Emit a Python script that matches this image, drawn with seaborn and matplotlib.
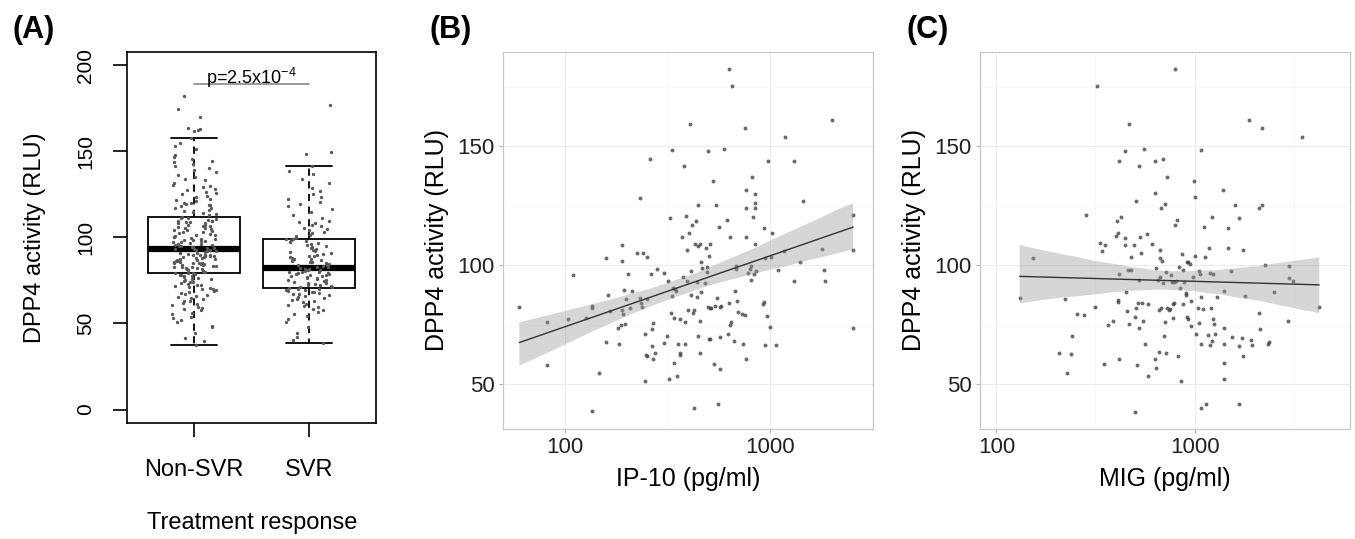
import numpy as np
import pandas as pd
import matplotlib
matplotlib.use("Agg")
import matplotlib.pyplot as plt
from matplotlib.collections import PolyCollection
from matplotlib.ticker import NullFormatter
import seaborn as sns

# ---- data ----
groups = ["Non-SVR", "SVR"]

dpp4_nonsvr = [
    37.6, 39.8, 41.5, 44.2, 47.9, 48.6,
    50.8, 52.1, 53.4, 53.9, 55.6, 56.2, 57.8, 58.3, 59.1, 59.7,
    60.5, 61.3, 61.9, 62.8, 63.2, 64.4, 64.9, 65.3, 66.0, 66.7, 67.1, 67.9, 68.4, 69.0, 69.6, 69.9,
    70.3, 70.9, 71.2, 71.8, 72.1, 72.6, 73.0, 73.5, 73.9, 74.2, 74.8, 75.0, 75.7, 76.1, 76.3, 76.9,
    77.4, 77.5, 78.1, 78.4, 78.9, 79.1, 79.4, 79.6, 79.9,
    80.2, 80.5, 80.6, 81.1, 81.4, 81.5, 82.0, 82.3, 82.7, 82.9, 83.0, 83.5, 83.8, 84.1, 84.4, 84.5,
    84.9, 85.3, 85.4, 85.9, 86.0, 86.3, 86.6, 86.8, 87.2, 87.5, 87.7, 88.1, 88.3, 88.6, 88.9, 89.0,
    89.2, 89.4, 89.6, 89.8, 89.9, 85.1, 83.2,
    90.1, 90.3, 90.8, 91.0, 91.2, 91.7, 91.9, 92.3, 92.6, 92.8, 93.1, 93.5, 93.6, 94.1, 94.4, 94.7,
    94.9, 95.3, 95.5, 95.9, 96.2, 96.5, 96.6, 97.1, 97.4, 97.7, 98.0, 98.3, 98.6, 99.0, 99.3, 99.7,
    100.1, 100.5, 100.9, 101.3, 101.5, 102.1, 102.6, 102.9, 103.3, 103.7, 104.1, 104.3, 104.9, 105.4,
    105.6, 106.1, 106.5, 106.9, 107.3, 107.5, 108.2, 108.4, 108.9, 109.1, 109.4, 109.6, 109.8, 110.2,
    110.7, 111.1, 111.6, 112.0, 112.9, 113.4, 114.3, 114.8, 115.6, 116.1, 116.9, 117.3, 118.1, 118.6,
    119.1, 119.5, 119.8, 120.3,
    121.0, 121.6, 122.4, 123.5, 124.1, 125.3, 126.0, 126.7, 127.6, 128.2, 129.1, 129.8,
    130.6, 131.7, 133.2, 134.0, 135.4, 136.6, 138.0, 139.1,
    140.4, 141.6, 142.7, 143.8, 144.5, 145.6, 146.9, 148.2,
    151.4, 153.2, 155.1, 157.6,
    162.0, 162.3, 162.8, 163.4, 169.8, 174.5, 182.4,
]

dpp4_svr = [
    38.8, 40.6, 42.1, 44.7, 47.9,
    50.7, 52.4, 54.1, 55.3, 56.9, 57.6, 58.4, 59.5,
    60.2, 60.9, 61.5, 62.3, 62.9, 63.6, 64.0, 64.7, 65.2, 65.8, 66.4, 66.9, 67.3, 67.8, 68.2, 68.6,
    69.0, 69.3, 69.6, 69.9,
    70.3, 70.6, 71.0, 71.4, 71.9, 72.2, 72.6, 73.1, 73.5, 73.8, 74.2, 74.7, 75.0, 75.4, 75.9, 76.3,
    76.6, 77.0, 77.5, 77.8, 78.1, 78.4, 78.8, 79.0, 79.3, 79.5, 79.7, 79.9,
    80.2, 80.5, 80.9, 81.2, 81.6, 81.9, 82.3, 82.6, 82.9, 83.4, 83.8, 84.2, 84.6, 85.0, 85.5, 85.9,
    86.4, 86.8, 87.3, 87.7, 88.2, 88.6, 89.1, 89.4, 89.8,
    90.3, 90.9, 91.6, 92.2, 92.8, 93.4, 94.0, 94.5, 95.1, 95.6, 96.2, 96.8, 97.3, 97.8, 98.4, 98.9,
    99.3, 99.8,
    100.6, 101.5, 102.4, 103.2, 104.1, 104.9, 105.7, 106.5, 107.4, 108.2, 109.0, 109.8,
    111.2, 113.0, 114.9, 116.5, 118.3, 119.6,
    120.8, 122.1, 123.6, 125.4, 126.9, 128.7,
    131.5, 134.2, 136.8, 138.9, 141.5,
    148.3, 149.7, 177.0,
]

p_label = r"p=2.5x10$^{-4}$"

ip10 = [
    60, 82, 82, 103, 109, 126, 135, 135, 135, 147,
    158, 159, 163, 165, 183, 182, 188, 190, 190, 190,
    192, 196, 195, 199, 203, 208, 212, 224, 231, 233,
    235, 236, 240, 245, 248, 250, 250, 252, 261, 263,
    266, 266, 268, 268, 275, 281, 245, 302, 305, 314,
    317, 321, 325, 328, 332, 333, 337, 340, 339, 342,
    349, 351, 357, 362, 364, 364, 373, 375, 380, 384,
    385, 388, 393, 393, 397, 400, 408, 410, 413, 415,
    420, 423, 425, 431, 436, 440, 440, 443, 445, 447,
    453, 456, 457, 458, 460, 463, 481, 487, 490, 494,
    497, 500, 502, 504, 507, 507, 510, 515, 525, 531,
    537, 546, 548, 558, 560, 566, 568, 572, 576, 597,
    612, 620, 626, 630, 636, 636, 643, 654, 665, 672,
    679, 684, 691, 698, 732, 737, 751, 756, 765, 765,
    765, 765, 780, 793, 802, 809, 817, 823, 829, 838,
    843, 843, 846, 856, 922, 931, 931, 938, 945, 963,
    975, 992, 1004, 1023, 1061, 1089, 1165, 1173, 1300, 1311,
    1398, 1440, 1785, 1818, 1845, 1996, 2530, 2530, 2530,
]
dpp4_ip10 = [
    82.4, 76.2, 58.2, 77.4, 95.7, 77.8, 82.7, 82.0, 38.8, 54.6,
    67.7, 102.9, 87.5, 80.7, 66.9, 73.8, 74.8, 108.6, 101.6, 81.3,
    79.5, 75.2, 89.6, 85.6, 96.1, 82.1, 89.2, 105.0, 86.3, 128.2,
    84.3, 82.4, 105.0, 70.9, 62.2, 103.6, 62.0, 85.7, 144.8, 96.1,
    66.1, 73.1, 75.6, 60.8, 63.0, 98.3, 51.4, 96.8, 67.3, 70.2,
    93.2, 52.2, 119.9, 79.8, 148.4, 87.2, 90.6, 77.7, 59.1, 89.9,
    89.2, 53.3, 66.9, 63.3, 62.2, 77.4, 112.0, 95.0, 141.5, 76.2,
    66.9, 120.6, 106.5, 93.5, 81.0, 113.4, 159.5, 97.6, 87.5, 117.0,
    80.0, 39.9, 81.3, 109.1, 118.7, 92.9, 86.7, 70.2, 108.0, 125.2,
    109.1, 76.7, 63.3, 101.2, 88.9, 99.0, 92.5, 107.3, 97.1, 99.3,
    148.0, 82.4, 104.0, 69.2, 108.8, 69.0, 82.0, 82.0, 135.4, 58.4,
    82.7, 125.4, 86.3, 41.6, 115.9, 82.4, 56.5, 69.7, 82.9, 148.7,
    119.2, 71.2, 84.3, 182.3, 111.7, 74.8, 76.2, 175.1, 68.3, 89.2,
    99.7, 98.3, 85.0, 80.5, 79.5, 66.9, 157.8, 78.9, 131.7, 124.2,
    112.0, 60.8, 96.8, 98.3, 99.7, 93.9, 137.2, 120.2, 96.1, 126.1,
    124.2, 109.1, 130.0, 97.6, 83.9, 84.6, 115.6, 66.6, 102.9, 78.5,
    143.7, 74.1, 103.3, 113.4, 66.6, 98.0, 105.8, 154.0, 143.7, 93.5,
    101.2, 127.1, 106.9, 97.8, 93.5, 161.2, 121.0, 106.6, 73.5,
]

mig = [
    131, 153, 207, 222, 228, 237, 241, 256, 276, 282,
    313, 320, 332, 341, 348, 355, 366, 387, 399, 406,
    410, 411, 411, 414, 414, 414, 426, 445, 445, 448,
    453, 456, 460, 465, 465, 475, 475, 493, 498, 502,
    508, 508, 513, 518, 522, 522, 522, 532, 539, 543,
    550, 554, 560, 575, 580, 585, 610, 629, 634, 634,
    638, 641, 654, 659, 663, 666, 670, 672, 676, 676,
    681, 690, 695, 700, 712, 712, 717, 720, 725, 725,
    740, 748, 760, 769, 775, 775, 784, 784, 792, 800,
    809, 815, 821, 839, 845, 854, 866, 869, 876, 882,
    900, 907, 914, 918, 925, 925, 944, 955, 963, 977,
    988, 1000, 1008, 1020, 1040, 1048, 1055, 1066, 1073, 1073,
    1081, 1081, 1099, 1110, 1122, 1145, 1175, 1187, 1199, 1199,
    1211, 1220, 1228, 1237, 1245, 1260, 1268, 1295, 1399, 1415,
    1415, 1415, 1415, 1415, 1478, 1478, 1530, 1541, 1602, 1670,
    1670, 1670, 1731, 1749, 1761, 1786, 1871, 1929, 1944, 2101,
    2125, 2142, 2200, 2200, 2270, 2357, 2385, 2528, 2972, 3003,
    3003, 3150, 3500, 4255,
]
dpp4_mig = [
    86.3, 102.9, 63.3, 85.6, 54.6, 62.5, 70.2, 79.5, 79.1, 120.9,
    82.4, 175.1, 109.4, 105.8, 58.4, 108.6, 74.8, 76.4, 112.2, 118.7,
    113.4, 85.3, 84.6, 96.1, 60.8, 143.9, 120.3, 148.0, 111.5, 108.6,
    88.6, 80.7, 98.0, 159.5, 75.2, 98.0, 103.3, 108.6, 78.4, 38.5,
    127.1, 82.1, 57.9, 84.1, 73.8, 141.8, 93.9, 112.0, 105.0, 84.1,
    76.4, 148.7, 66.9, 113.0, 83.9, 53.6, 108.8, 143.7, 130.3, 60.8,
    99.0, 56.8, 93.9, 81.3, 63.7, 102.9, 95.0, 106.5, 124.2, 82.0,
    101.9, 144.8, 92.5, 70.2, 125.6, 76.2, 97.1, 63.0, 137.2, 82.0,
    81.0, 81.7, 95.7, 92.9, 83.9, 77.7, 84.1, 92.9, 182.6, 117.0,
    93.5, 119.2, 62.0, 99.3, 90.6, 51.2, 104.8, 98.0, 83.9, 92.8,
    87.5, 88.2, 101.4, 78.1, 101.2, 77.4, 100.7, 74.5, 84.9, 95.0,
    135.4, 128.5, 104.0, 70.9, 82.0, 97.6, 75.9, 96.1, 148.4, 86.7,
    67.0, 39.9, 81.7, 115.9, 103.6, 41.6, 70.5, 107.3, 96.8, 66.6,
    82.0, 68.3, 120.3, 96.4, 77.4, 75.2, 71.3, 86.7, 131.7, 73.8,
    58.9, 66.9, 52.2, 89.3, 115.6, 107.3, 97.6, 69.7, 125.2, 119.9,
    66.1, 41.6, 69.5, 62.0, 106.6, 87.2, 161.2, 68.7, 66.6, 124.2,
    79.8, 73.3, 157.8, 125.2, 100.0, 66.9, 67.7, 88.9, 76.4, 99.7,
    94.7, 93.5, 154.0, 82.4,
]

# ---- style ----
sns.set_style("white")
plt.rcParams["font.family"] = ["Liberation Sans", "DejaVu Sans"]
plt.rcParams["mathtext.fontset"] = "custom"
plt.rcParams["mathtext.rm"] = "Liberation Sans"
plt.rcParams["mathtext.it"] = "Liberation Sans:italic"
plt.rcParams["text.color"] = "black"
plt.rcParams["axes.labelcolor"] = "black"
np.random.seed(3)

fig = plt.figure(figsize=(13.55, 5.39), dpi=100)
axA = fig.add_axes([0.0940, 0.2147, 0.1835, 0.6894])
axB = fig.add_axes([0.3710, 0.2041, 0.2733, 0.7000])
axC = fig.add_axes([0.7232, 0.2041, 0.2731, 0.7000])

# ---- (A) boxplot + jittered points ----
box_df = pd.DataFrame({
    "group": [groups[0]] * len(dpp4_nonsvr) + [groups[1]] * len(dpp4_svr),
    "dpp4": dpp4_nonsvr + dpp4_svr,
})
sns.boxplot(data=box_df, x="group", y="dpp4", order=groups, ax=axA,
            color="white", linecolor="black", linewidth=1.3, width=0.8,
            showfliers=False,
            whiskerprops={"linestyle": (0, (4, 3))},
            medianprops={"linewidth": 4.5, "color": "black"})
sns.stripplot(data=box_df, x="group", y="dpp4", order=groups, ax=axA,
              color="#585858", size=2.4, jitter=0.2, linewidth=0, zorder=3)
axA.set_xlim(-0.58, 1.58)
axA.set_ylim(-8, 208)
axA.set_yticks([0, 50, 100, 150, 200])
axA.tick_params(axis="y", left=True, labelrotation=90, labelsize=15, length=10,
                width=1.2, direction="out", pad=13, color="black",
                labelcolor="black")
for lab in axA.get_yticklabels():
    lab.set_va("center")
axA.tick_params(axis="x", bottom=True, labelsize=17, length=10, width=1.2,
                direction="out", pad=16, color="black", labelcolor="black")
for sp in axA.spines.values():
    sp.set_visible(True)
    sp.set_color("black")
    sp.set_linewidth(1.2)
axA.set_xlabel("Treatment response", fontsize=17, labelpad=22)
axA.set_ylabel("DPP4 activity (RLU)", fontsize=17, labelpad=22)
axA.plot([0, 1], [189, 189], color="#888888", lw=1.2)
axA.text(0.5, 192.5, p_label, ha="center", va="center", fontsize=13)


# ---- (B), (C) regression panels ----
def reg_panel(ax, x, y, xlabel, xlim):
    sns.regplot(x=np.array(x, float), y=np.array(y, float), ax=ax, logx=True,
                ci=95, n_boot=1000, seed=1, truncate=True,
                scatter_kws=dict(s=8, color="#454545", linewidths=0),
                line_kws=dict(color="#333333", lw=1.0))
    for coll in ax.collections:
        if isinstance(coll, PolyCollection):
            coll.set_facecolor("#999999")
            coll.set_alpha(0.4)
            coll.set_edgecolor("none")
    ax.set_xscale("log")
    ax.set_xlim(*xlim)
    ax.set_ylim(31.2, 189.7)
    ax.set_xticks([100, 1000])
    ax.set_xticklabels(["100", "1000"])
    ax.set_xticks([10 ** 2.5, 10 ** 3.5], minor=True)
    ax.xaxis.set_minor_formatter(NullFormatter())
    ax.set_yticks([50, 100, 150])
    ax.set_yticks([75, 125, 175], minor=True)
    ax.tick_params(which="minor", length=0)
    ax.tick_params(which="major", left=True, bottom=True, labelsize=16,
                   length=3, width=0.8, color="#B3B3B3", labelcolor="#222222",
                   pad=3)
    ax.grid(which="major", color="#EBEBEB", lw=0.7)
    ax.grid(which="minor", color="#F5F5F5", lw=0.5)
    ax.set_axisbelow(True)
    for sp in ax.spines.values():
        sp.set_visible(True)
        sp.set_color("#C8C8C8")
        sp.set_linewidth(0.9)
    ax.set_xlabel(xlabel, fontsize=18, labelpad=6)
    ax.set_ylabel("DPP4 activity (RLU)", fontsize=18, labelpad=6)


reg_panel(axB, ip10, dpp4_ip10, "IP-10 (pg/ml)", (49.8, 3069))
reg_panel(axC, mig, dpp4_mig, "MIG (pg/ml)", (82.6, 6081))

# panel letters
for xpix, lab in [(13, "(A)"), (430, "(B)"), (907, "(C)")]:
    fig.text(xpix / 1355, 1 - 30 / 539, lab, fontsize=22, fontweight="bold",
             ha="left", va="center")

fig.savefig("out.png", dpi=100)
